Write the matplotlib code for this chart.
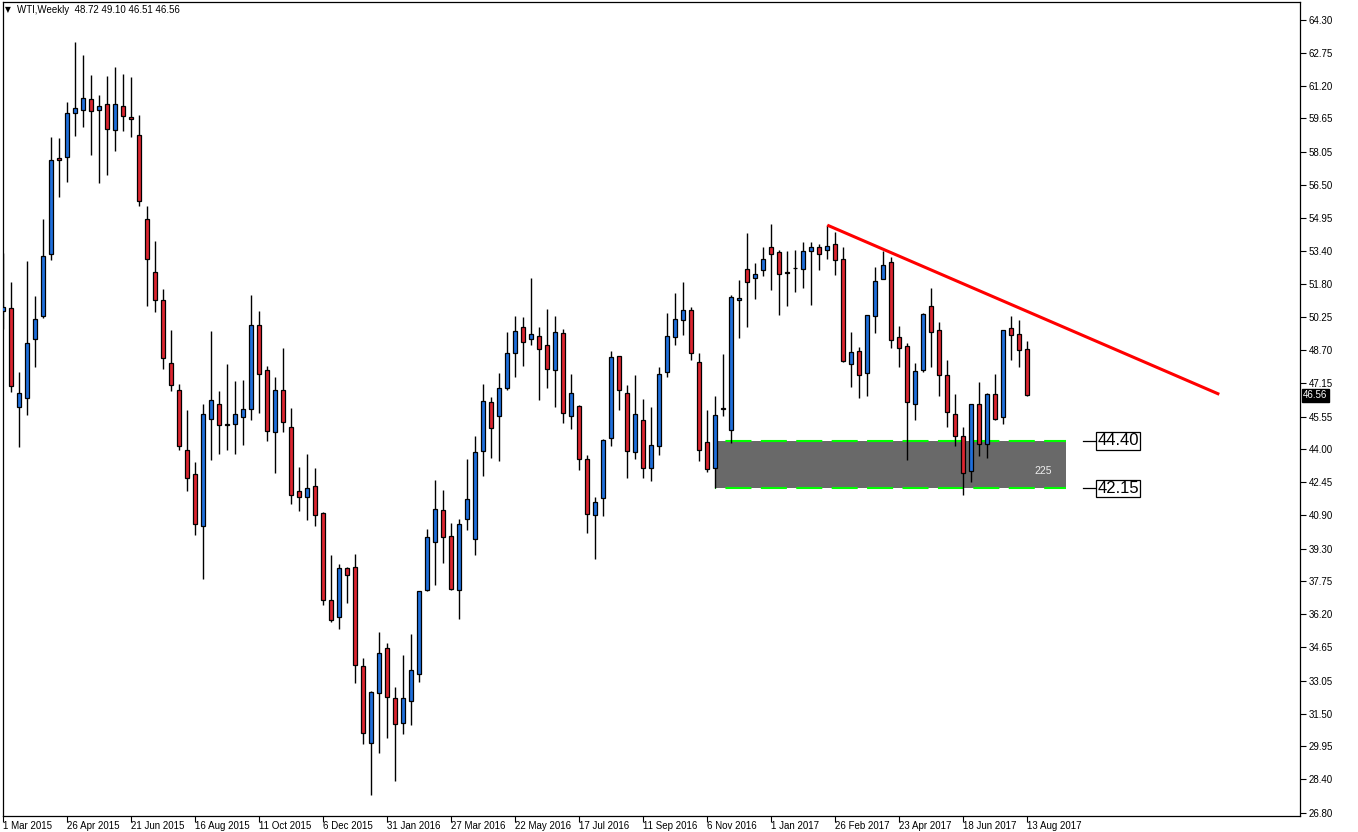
import numpy as np
import pandas as pd
import matplotlib
matplotlib.use("Agg")
import matplotlib.pyplot as plt
import matplotlib.transforms as mtransforms
from matplotlib.patches import Rectangle

plt.rcParams['font.family'] = ['Liberation Sans', 'DejaVu Sans']

# Weekly WTI candles, first bar = week of 1 Mar 2015
opens = [50.54, 50.67, 45.98, 46.41, 49.20, 50.28, 53.25, 57.76, 57.81, 59.89,
         60.03, 60.55, 60.03, 60.31, 59.08, 60.21, 59.71, 58.84, 54.88, 52.36,
         51.04, 48.07, 46.79, 43.95, 42.81, 40.39, 45.42, 46.12, 45.18, 45.18,
         45.51, 45.89, 49.86, 47.73, 44.80, 46.79, 45.04, 42.01, 41.73, 42.25,
         40.97, 36.86, 36.05, 38.37, 38.42, 33.73, 30.09, 32.46, 34.59, 32.22,
         31.07, 32.11, 33.39, 37.35, 39.60, 41.11, 39.88, 37.36, 40.69, 39.74,
         43.90, 46.22, 45.56, 46.88, 48.54, 49.77, 49.20, 49.34, 48.92, 47.73,
         49.48, 45.56, 46.03, 43.56, 40.88, 41.68, 44.52, 48.40, 46.65, 43.86,
         45.37, 43.10, 44.14, 47.64, 49.30, 50.10, 50.57, 48.11, 44.33, 43.10,
         45.93, 44.90, 51.04, 52.51, 52.08, 52.46, 53.55, 53.31, 52.36, 52.57,
         52.51, 53.36, 53.55, 53.41, 53.69, 52.98, 48.02, 48.63, 47.59, 50.29,
         52.04, 52.84, 49.29, 48.87, 46.13, 47.73, 50.76, 49.62, 47.50, 45.65,
         44.61, 42.96, 46.13, 44.24, 46.60, 45.51, 49.72, 49.44, 48.72]
highs = [53.27, 51.90, 47.65, 52.90, 51.24, 54.88, 58.76, 58.73, 60.42, 63.24,
         62.64, 61.70, 60.75, 61.65, 62.07, 61.75, 61.60, 59.81, 55.50, 53.85,
         51.58, 49.64, 47.09, 45.86, 43.40, 46.12, 49.59, 46.76, 48.03, 47.23,
         47.28, 51.30, 50.54, 47.94, 47.42, 48.79, 45.95, 43.16, 43.78, 43.12,
         41.02, 39.00, 38.56, 38.45, 39.05, 34.11, 32.58, 35.36, 34.84, 32.76,
         34.27, 35.26, 37.28, 40.23, 42.55, 42.08, 40.50, 40.70, 43.54, 44.63,
         47.09, 46.46, 47.61, 49.53, 50.30, 50.26, 52.08, 49.77, 50.62, 50.29,
         49.67, 47.54, 46.08, 43.71, 41.73, 44.47, 48.65, 48.40, 47.02, 47.50,
         46.36, 45.98, 47.88, 50.43, 51.38, 51.89, 50.71, 48.54, 45.84, 46.50,
         48.49, 51.30, 52.01, 54.23, 52.79, 53.55, 54.65, 53.41, 53.38, 53.42,
         53.79, 53.79, 53.69, 54.59, 54.26, 53.55, 49.53, 48.82, 50.33, 52.61,
         53.38, 53.08, 49.81, 49.01, 48.06, 50.43, 51.61, 50.00, 48.21, 46.60,
         45.04, 46.13, 47.17, 46.65, 47.54, 49.62, 50.29, 50.10, 49.10]
lows = [49.68, 46.69, 44.10, 45.64, 47.90, 50.20, 52.97, 55.91, 56.65, 58.83,
        59.25, 57.93, 56.57, 56.99, 58.12, 59.06, 58.78, 55.52, 50.79, 50.47,
        47.82, 46.77, 43.98, 42.04, 39.96, 37.88, 43.51, 43.79, 43.98, 43.79,
        44.22, 45.40, 45.73, 44.41, 42.86, 44.83, 41.40, 41.10, 40.64, 40.39,
        36.65, 35.82, 35.52, 36.71, 32.96, 30.08, 27.65, 29.65, 30.36, 28.33,
        30.55, 30.98, 33.01, 37.30, 37.60, 38.64, 37.36, 35.99, 40.20, 39.02,
        42.75, 43.60, 43.46, 46.79, 47.43, 47.95, 48.93, 46.33, 46.88, 46.02,
        45.26, 44.98, 43.04, 40.06, 38.83, 40.86, 44.17, 45.87, 42.66, 43.56,
        42.66, 42.52, 43.75, 47.40, 48.92, 49.39, 48.21, 43.43, 42.94, 42.15,
        45.59, 44.31, 49.28, 49.80, 51.12, 52.21, 51.55, 50.37, 50.79, 51.45,
        51.64, 50.84, 52.49, 52.98, 52.26, 48.14, 46.96, 46.44, 46.54, 49.48,
        52.04, 48.77, 47.88, 43.51, 45.37, 47.64, 47.88, 46.50, 45.04, 44.14,
        41.82, 42.44, 43.67, 43.57, 45.37, 45.21, 48.21, 47.88, 46.51]
closes = [50.74, 46.97, 46.65, 49.02, 50.15, 53.12, 57.66, 57.66, 59.89, 60.13,
          60.60, 59.98, 60.21, 59.13, 60.31, 59.74, 59.60, 55.72, 53.02, 51.08,
          48.31, 47.02, 44.14, 42.63, 40.45, 45.65, 46.31, 45.13, 45.14, 45.65,
          45.89, 49.86, 47.58, 44.85, 46.79, 45.27, 41.82, 41.73, 42.15, 40.88,
          36.86, 35.91, 38.37, 38.04, 33.78, 30.57, 32.51, 34.35, 32.27, 30.99,
          32.22, 33.55, 37.28, 39.84, 41.16, 39.84, 37.41, 40.45, 41.63, 43.86,
          46.27, 44.99, 46.88, 48.54, 49.58, 49.06, 49.44, 48.73, 47.78, 49.53,
          45.70, 46.65, 43.53, 40.92, 41.49, 44.42, 48.35, 46.79, 43.90, 45.65,
          43.10, 44.19, 47.54, 49.34, 50.14, 50.57, 48.54, 43.95, 43.05, 45.61,
          45.91, 51.19, 51.14, 51.90, 52.27, 52.98, 53.22, 52.27, 52.34, 52.55,
          53.36, 53.55, 53.22, 53.60, 52.94, 48.19, 48.59, 47.50, 50.33, 51.94,
          52.70, 49.15, 48.77, 46.22, 47.69, 50.38, 49.53, 47.50, 45.75, 44.61,
          42.86, 46.13, 44.24, 46.60, 45.42, 49.62, 49.39, 48.68, 46.56]

start_date = "2015-03-01"
price_ticks = [64.30, 62.75, 61.20, 59.65, 58.05, 56.50, 54.95, 53.40, 51.80,
               50.25, 48.70, 47.15, 45.55, 44.00, 42.45, 40.90, 39.30, 37.75,
               36.20, 34.65, 33.05, 31.50, 29.95, 28.40, 26.80]

# drawn objects
zone_top = 44.40
zone_bottom = 42.15
zone_label = "225"
trend_bars = [103, 152]
trend_prices = [54.60, 46.60]

BLUE = "#1f6fdc"
RED = "#dc2530"

W, H = 1358, 832
fig = plt.figure(figsize=(W / 100, H / 100), dpi=100)
ax = fig.add_axes([2.7 / W, 16 / H, (1300 - 2.7) / W, (816 - 2) / H])

n = len(opens)
x = np.arange(n)
o = np.array(opens)
c = np.array(closes)

# support zone
ax.add_patch(Rectangle((89, zone_bottom), 132.9 - 89, zone_top - zone_bottom,
                       facecolor="#696969", edgecolor="none", zorder=1))
for lvl in (zone_top, zone_bottom):
    ax.plot([89, 132.9], [lvl, lvl], color="#00ff00", lw=1.5,
            linestyle=(12, (12.5, 4.5)), zorder=1.5)
ax.text(130.0, 42.97, zone_label, color="#eeeeee", fontsize=7.5,
        ha="center", va="center", zorder=1.6)

# candles
ax.vlines(x, lows, highs, color="black", lw=1.0, zorder=2)
body_lo = np.minimum(o, c)
body_h = np.maximum(np.abs(c - o), 0.03)
colors = [BLUE if cc >= oo else RED for oo, cc in zip(o, c)]
ax.bar(x, body_h, bottom=body_lo, width=0.55, color=colors,
       edgecolor="black", linewidth=0.9, zorder=3)

# trend line
ax.plot(trend_bars, trend_prices, color="#ff0000", lw=2.2, zorder=4,
        solid_capstyle="butt")

# level labels
for lvl in (zone_top, zone_bottom):
    ax.plot([134.96, 136.6], [lvl, lvl], color="black", lw=0.9, zorder=4)
    ax.text(136.75, lvl, f"{lvl:.2f}", fontsize=12, ha="left", va="center",
            zorder=5, bbox=dict(boxstyle="square,pad=0.08", facecolor="white",
                                edgecolor="black", linewidth=0.9))

ax.set_xlim(-0.075, 162.09)
ax.set_ylim(26.659, 65.151)

# price axis on the right
ax.yaxis.tick_right()
ax.set_yticks(price_ticks)
ax.set_yticklabels([f"{p:.2f}" for p in price_ticks])
ax.tick_params(axis="y", direction="out", length=4, width=0.8, pad=2,
               labelsize=7, colors="black")

# date axis: ticks plus left-aligned labels starting at each tick
dates = pd.date_range(start_date, periods=n, freq="7D")
tick_idx = list(range(0, n, 8))
ax.set_xticks(tick_idx)
ax.set_xticklabels([])
ax.tick_params(axis="x", direction="out", length=4, width=0.8, colors="black")
xtrans = mtransforms.blended_transform_factory(ax.transData, ax.transAxes)
xtrans = xtrans + mtransforms.ScaledTranslation(0, -5 / 100, fig.dpi_scale_trans)
for i in tick_idx:
    ax.text(i, 0, f"{dates[i].day} {dates[i].strftime('%b %Y')}", transform=xtrans,
            fontsize=7, ha="left", va="top", color="black", clip_on=False)

for sp in ax.spines.values():
    sp.set_color("black")
    sp.set_linewidth(0.9)

# current price tag
trans = mtransforms.blended_transform_factory(ax.transAxes, ax.transData)
ax.text(1.0 + 3 / 1297, closes[-1], f"{closes[-1]:.2f}", transform=trans,
        fontsize=7, color="white", ha="left", va="center", clip_on=False,
        bbox=dict(boxstyle="square,pad=0.15", facecolor="black", edgecolor="black"))

# header
fig.text(5 / W, 1 - 10 / H, "▼", fontsize=5.5, family="DejaVu Sans",
         va="center", ha="left")
fig.text(17 / W, 1 - 10 / H,
         f"WTI,Weekly  {opens[-1]:.2f} {highs[-1]:.2f} {lows[-1]:.2f} {closes[-1]:.2f}",
         fontsize=7, va="center", ha="left", color="black")

fig.savefig("out.png", dpi=100, facecolor="white")
